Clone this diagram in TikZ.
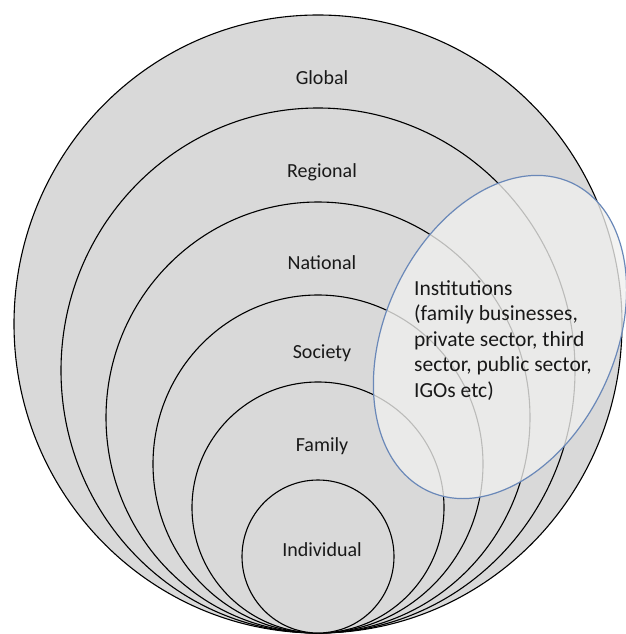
\documentclass[tikz,border=0pt]{standalone}
\usepackage{fontspec}
\setmainfont{Carlito}
\definecolor{ringgray}{HTML}{D9D9D9}
\definecolor{instfill}{HTML}{F0F0EE}
\definecolor{instblue}{HTML}{6A88B8}
\begin{document}
\begin{tikzpicture}[x=1pt,y=-1pt,
  ring/.style={draw=black, line width=1.1pt, fill=ringgray},
  inst/.style={draw=instblue, line width=1.2pt, fill=instfill, fill opacity=0.78, draw opacity=1},
  lbl/.style={font=\fontsize{20}{24}\selectfont, inner sep=0pt, text=black!90}]
\useasboundingbox (0,0) rectangle (625,634);
% nested rings, all touching at the bottom
\draw[ring] (318,324)   ellipse [x radius=304pt, y radius=309pt];
\draw[ring] (318,370.5) ellipse [x radius=257pt, y radius=262.5pt];
\draw[ring] (318,417.5) ellipse [x radius=212pt, y radius=215.5pt];
\draw[ring] (318,464)   ellipse [x radius=165pt, y radius=169pt];
\draw[ring] (318,507.5) ellipse [x radius=126pt, y radius=125.5pt];
\draw[ring] (318,556.5) ellipse [x radius=76pt, y radius=76.5pt];
% institutions ellipse
\begin{scope}[shift={(500,337)}, rotate=-25]
\draw[inst] (0,0) ellipse [x radius=115pt, y radius=170pt];
\end{scope}
% labels
\node[lbl] (global) at (322,78) {Global};
\node[lbl] (regional) at (322,172) {Regional};
\node[lbl] (national) at (322,263) {National};
\node[lbl] (society) at (322,353) {Society};
\node[lbl] (family) at (322,446) {Family};
\node[lbl] (individual) at (322,550) {Individual};
\node[lbl, anchor=north west, align=left, font=\fontsize{21.5}{25.5}\selectfont] (institutions) at (414,280)
  {Institutions\\(family businesses,\\private sector, third\\sector, public sector,\\IGOs etc)};
\end{tikzpicture}
\end{document}
